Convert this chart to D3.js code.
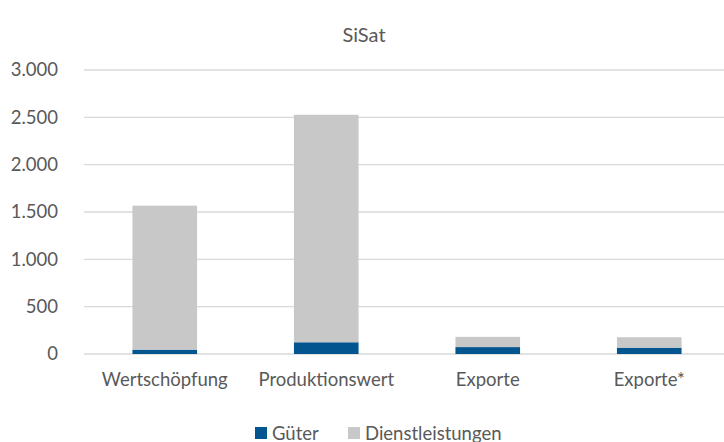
<!DOCTYPE html>
<html><head><meta charset="utf-8">
<script src="https://cdn.jsdelivr.net/npm/d3@7"></script>
<style>body{margin:0;background:#fff}svg{display:block}</style>
</head><body><svg id="c" width="724" height="442"></svg>
<script>
const categories = ["Wertschöpfung", "Produktionswert", "Exporte", "Exporte*"];
const gueter = [46, 124, 73, 67];
const dienstleistungen = [1521, 2403, 108, 110];
const seriesNames = ["Güter", "Dienstleistungen"];
const yTicks = [0, 500, 1000, 1500, 2000, 2500, 3000];
const colors = ["#03558F", "#C8C8C8"];
const FONT = "Lato, 'Liberation Sans', sans-serif";

const svg = d3.select("#c");
const L = 84, R = 730, T = 70, B = 354;
const x = d3.scaleBand().domain(categories).range([L, R]).paddingInner(0.6).paddingOuter(0.3);
const y = d3.scaleLinear().domain([0, 3000]).range([B, T]);

// gridlines
svg.append("g").selectAll("line").data(yTicks).join("line")
  .attr("x1", L).attr("x2", 724).attr("y1", d => y(d)).attr("y2", d => y(d))
  .attr("stroke", "#D9D9D9").attr("stroke-width", 1.3);

const data = categories.map((c, i) => ({cat: c, "Güter": gueter[i], "Dienstleistungen": dienstleistungen[i]}));
const stack = d3.stack().keys(seriesNames)(data);
svg.append("g").selectAll("g").data(stack).join("g").attr("fill", (d, i) => colors[i])
  .selectAll("rect").data(d => d).join("rect")
  .attr("x", d => x(d.data.cat)).attr("width", x.bandwidth())
  .attr("y", d => y(d[1])).attr("height", d => y(d[0]) - y(d[1]));

// y axis
const fmt = d3.formatLocale({decimal: ",", thousands: ".", grouping: [3], currency: ["", "€"]}).format(",.0f");
const ya = svg.append("g").attr("transform", `translate(${L},0)`)
  .call(d3.axisLeft(y).tickValues(yTicks).tickFormat(fmt).tickSize(0).tickPadding(26));
ya.select(".domain").remove();
ya.selectAll("text").attr("font-family", FONT).attr("font-size", 18.5).attr("fill", "#595959");

// x axis
const xa = svg.append("g").attr("transform", `translate(0,${B})`)
  .call(d3.axisBottom(x).tickSize(0).tickPadding(19));
xa.select(".domain").remove();
xa.selectAll("text").attr("font-family", FONT).attr("font-size", 18.5).attr("fill", "#595959");

// title
svg.append("text").attr("x", 364).attr("y", 42).attr("text-anchor", "middle")
  .attr("font-family", FONT).attr("font-size", 20).attr("fill", "#595959").text("SiSat");

// legend
const leg = svg.append("g");
const legX = [255, 348];
seriesNames.forEach((s, i) => {
  leg.append("rect").attr("x", legX[i]).attr("y", 427).attr("width", 12).attr("height", 12).attr("fill", colors[i]);
  leg.append("text").attr("x", legX[i] + 17).attr("y", 439.5).attr("font-family", FONT)
    .attr("font-size", 18.5).attr("fill", "#595959").text(s);
});
</script></body></html>
